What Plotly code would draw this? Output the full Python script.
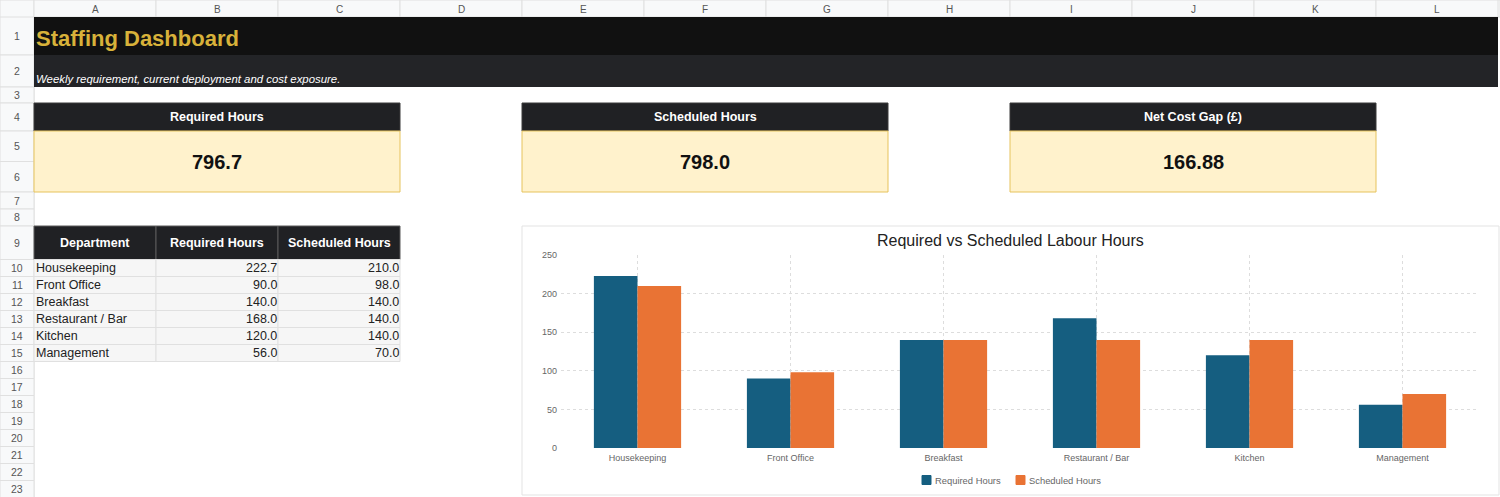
import plotly.graph_objects as go

W, H = 1500, 497

departments = ["Housekeeping", "Front Office", "Breakfast", "Restaurant / Bar", "Kitchen", "Management"]
required_hours = [222.7, 90.0, 140.0, 168.0, 120.0, 56.0]
scheduled_hours = [210.0, 98.0, 140.0, 140.0, 140.0, 70.0]
net_cost_gap = 166.88

col_letters = ["A", "B", "C", "D", "E", "F", "G", "H", "I", "J", "K", "L"]
row_heights = [38, 32, 16, 28, 30.5, 30.5, 17, 17, 33.5] + [17] * 14
y_ticks = [0, 50, 100, 150, 200, 250]

FONT = "Liberation Sans"
BLUE = "#155e80"
ORANGE = "#e97334"


def fx(px):
    return px / W


def fy(py):
    return 1 - py / H


# grid geometry
col_x = [34 + 122.0 * i for i in range(13)]
row_y = [17]
for h in row_heights:
    row_y.append(row_y[-1] + h)

shapes = []
annotations = []


def rect(x0, y0, x1, y1, fill, line=None, lw=1):
    shapes.append(dict(type="rect", xref="paper", yref="paper",
                       x0=fx(x0), x1=fx(x1), y0=fy(y1), y1=fy(y0),
                       fillcolor=fill, line=dict(color=line or fill, width=lw if line else 0),
                       layer="below"))


def text(x, y, s, size=12, color="#222", bold=False, italic=False, anchor="center"):
    if bold:
        s = "<b>" + s + "</b>"
    if italic:
        s = "<i>" + s + "</i>"
    annotations.append(dict(x=fx(x), y=fy(y), xref="paper", yref="paper", text=s,
                            showarrow=False, xanchor=anchor, yanchor="middle",
                            font=dict(family=FONT, size=size, color=color)))


# column header row and row number column
rect(0, 0, W, 17, "#f8f9fa", "#e0e0e0")
rect(0, 0, 34, H, "#f8f9fa", "#e0e0e0")
for i, letter in enumerate(col_letters):
    rect(col_x[i], 0, col_x[i + 1], 17, "#f8f9fa", "#e0e0e0")
    text((col_x[i] + col_x[i + 1]) / 2, 9, letter, size=10, color="#555")
for r in range(len(row_heights)):
    rect(0, row_y[r], 34, row_y[r + 1], "#f8f9fa", "#e0e0e0")
    text(17, (row_y[r] + row_y[r + 1]) / 2, str(r + 1), size=10.5, color="#555")

# title rows
rect(col_x[0], row_y[0], col_x[12], row_y[1], "#111111")
rect(col_x[0], row_y[1], col_x[12], row_y[2], "#232427")
text(34, 38, "Staffing Dashboard", size=22, color="#d8b23a", bold=True, anchor="left")
text(34, 79, "Weekly requirement, current deployment and cost exposure.",
     size=11.4, color="#ffffff", italic=True, anchor="left")

# KPI cards
kpis = [("Required Hours", "{:.1f}".format(sum(required_hours)), 0),
        ("Scheduled Hours", "{:.1f}".format(sum(scheduled_hours)), 4),
        ("Net Cost Gap (£)", "{:.2f}".format(net_cost_gap), 8)]
for label, value, c in kpis:
    x0, x1 = col_x[c], col_x[c + 3]
    rect(x0, row_y[3], x1, row_y[4], "#202124", "#3a3a3a")
    rect(x0, row_y[4], x1, row_y[6], "#fff2cc", "#e6c35c")
    text((x0 + x1) / 2, (row_y[3] + row_y[4]) / 2, label, size=12.5, color="#ffffff", bold=True)
    text((x0 + x1) / 2, (row_y[4] + row_y[6]) / 2, value, size=20, color="#111111", bold=True)

# department table
headers = ["Department", "Required Hours", "Scheduled Hours"]
for c, hd in enumerate(headers):
    rect(col_x[c], row_y[8], col_x[c + 1], row_y[9], "#202124", "#5a5a5a")
    text((col_x[c] + col_x[c + 1]) / 2, (row_y[8] + row_y[9]) / 2, hd, size=12.5, color="#ffffff", bold=True)
for i, dep in enumerate(departments):
    r = 9 + i
    ym = (row_y[r] + row_y[r + 1]) / 2
    for c in range(3):
        rect(col_x[c], row_y[r], col_x[c + 1], row_y[r + 1], "#f6f6f6", "#e0e0e0")
    text(34, ym, dep, size=12.5, color="#222", anchor="left")
    text(col_x[2] + 0.5, ym, "{:.1f}".format(required_hours[i]), size=12.5, color="#222", anchor="right")
    text(col_x[3] + 0.5, ym, "{:.1f}".format(scheduled_hours[i]), size=12.5, color="#222", anchor="right")

# chart frame
rect(522, 226, 1499, 495, "#ffffff", "#e3e3e3")
text(1010, 240, "Required vs Scheduled Labour Hours", size=16, color="#222")

fig = go.Figure()
fig.add_trace(go.Bar(x=departments, y=required_hours, name="Required Hours",
                     marker=dict(color=BLUE, line=dict(width=0))))
fig.add_trace(go.Bar(x=departments, y=scheduled_hours, name="Scheduled Hours",
                     marker=dict(color=ORANGE, line=dict(width=0))))

# compact legend drawn by hand (plotly's own legend spaces swatches too widely)
for name, colour, sx in [("Required Hours", BLUE, 922), ("Scheduled Hours", ORANGE, 1016)]:
    shapes.append(dict(type="rect", xref="paper", yref="paper",
                       x0=fx(sx), x1=fx(sx + 9), y0=fy(484.5), y1=fy(475.5),
                       fillcolor=colour, line=dict(color=colour, width=1)))
    text(sx + 11, 480, name, size=9.4, color="#666", anchor="left")

fig.update_layout(
    width=W, height=H,
    margin=dict(l=0, r=0, t=0, b=0, autoexpand=False),
    paper_bgcolor="#ffffff", plot_bgcolor="rgba(0,0,0,0)",
    barmode="group", bargap=0.43, bargroupgap=0,
    font=dict(family=FONT, color="#555"),
    shapes=shapes, annotations=annotations,
    showlegend=False,
    xaxis=dict(domain=[fx(561), fx(1479)], showgrid=True, gridcolor="#dddddd", griddash="3px,3px",
               tickfont=dict(size=9, color="#666"), showline=False, zeroline=False, ticks="",
               ticklabelstandoff=3),
    yaxis=dict(domain=[fy(448), fy(255)], range=[0, 250], tickvals=y_ticks,
               showgrid=True, gridcolor="#dddddd", griddash="3px,3px",
               zeroline=True, zerolinecolor="#ffffff", zerolinewidth=1,
               tickfont=dict(size=9, color="#666"), showline=False, ticks="",
               ticklabelstandoff=3),
)

# strip the default page margin so the figure sits at the window corner
fig.write_html("out.html", config={"displayModeBar": False},
               post_script="document.body.style.margin='0';")
